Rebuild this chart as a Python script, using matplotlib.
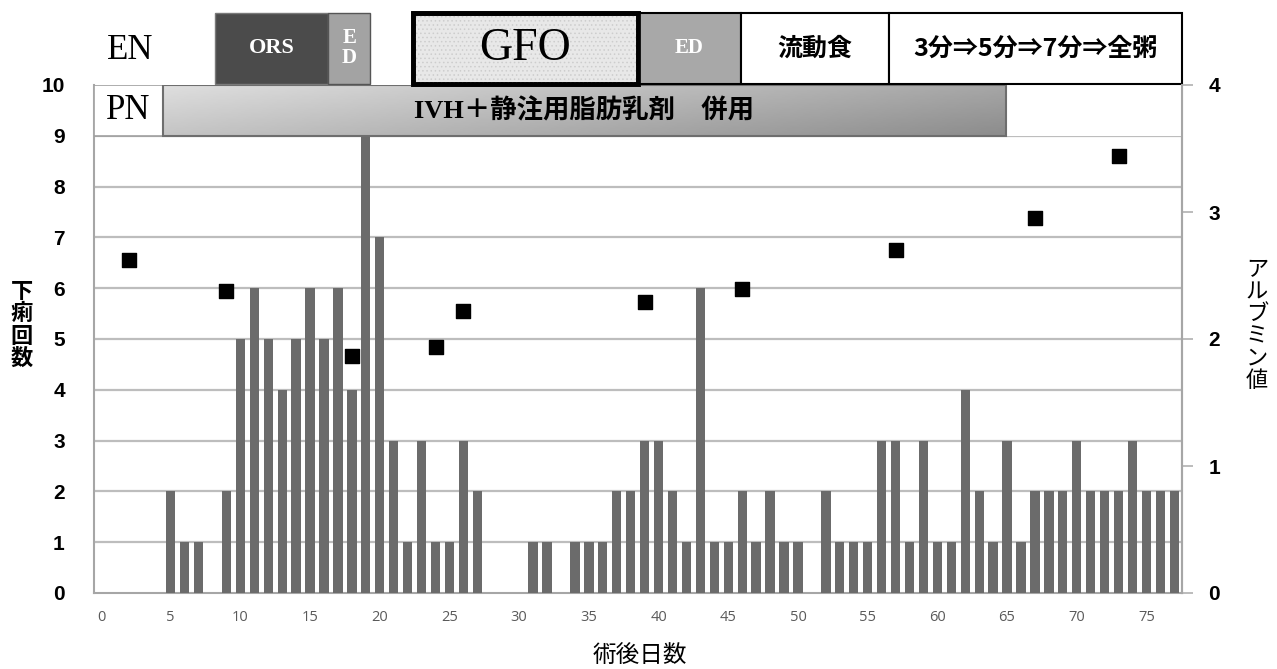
import numpy as np
import matplotlib
matplotlib.use("Agg")
import matplotlib.pyplot as plt
from matplotlib.patches import Rectangle

plt.rcParams['font.family'] = ['Noto Sans CJK JP', 'DejaVu Sans']
plt.rcParams['hatch.linewidth'] = 0.6

# ---- data ----
days = [5, 6, 7, 9, 10, 11, 12, 13, 14, 15, 16, 17, 18, 19, 20, 21, 22, 23, 24, 25, 26, 27,
        31, 32, 34, 35, 36, 37, 38, 39, 40, 41, 42, 43, 44, 45, 46, 47, 48, 49, 50,
        52, 53, 54, 55, 56, 57, 58, 59, 60, 61, 62, 63, 64, 65, 66, 67, 68, 69, 70,
        71, 72, 73, 74, 75, 76, 77]
diarrhea = [2, 1, 1, 2, 5, 6, 5, 4, 5, 6, 5, 6, 4, 9, 7, 3, 1, 3, 1, 1, 3, 2,
            1, 1, 1, 1, 1, 2, 2, 3, 3, 2, 1, 6, 1, 1, 2, 1, 2, 1, 1,
            2, 1, 1, 1, 3, 3, 1, 3, 1, 1, 4, 2, 1, 3, 1, 2, 2, 2, 3,
            2, 2, 2, 3, 2, 2, 2]

alb_days = [2, 9, 18, 24, 26, 39, 46, 57, 67, 73]
albumin = [2.62, 2.38, 1.87, 1.94, 2.22, 2.29, 2.39, 2.70, 2.95, 3.44]

# enteral nutrition periods (start day, end day, label)
en_labels = ["ORS", "E\nD", "GFO", "ED", "流動食", "3分⇒5分⇒7分⇒全粥"]
en_starts = [8.2, 16.3, 22.4, 38.5, 45.9, 56.5]
en_ends = [16.3, 19.3, 38.5, 45.9, 56.5, 77.55]

# parenteral nutrition period
pn_label = "IVH＋静注用脂肪乳剤　併用"
pn_start, pn_end = 4.45, 64.9

x_ticks = list(range(0, 76, 5))
left_ticks = list(range(0, 11))
right_ticks = [0, 1, 2, 3, 4]

# ---- figure ----
fig = plt.figure(figsize=(12.77, 6.69), dpi=100)
ax = fig.add_axes([94/1277, 1-593/669, (1182-94)/1277, (593-85)/669])
ax2 = ax.twinx()

XMIN, XMAX = -0.5, 77.55

ax.bar(days, diarrhea, width=0.67, color='#6b6b6b', zorder=3)
for y in range(1, 10):
    ax.axhline(y, color='#bdbdbd', lw=1.6, zorder=1)

ax.set_xlim(XMIN, XMAX)
ax.set_ylim(0, 10)
ax.set_xticks(x_ticks)
ax.set_xticklabels([str(t) for t in x_ticks], color='#5a5a5a', fontsize=10.5,
                   family=['Open Sans', 'DejaVu Sans'])
ax.tick_params(axis='x', length=0, pad=12)
ax.set_yticks(left_ticks)
ax.set_yticklabels([str(t) for t in left_ticks], fontsize=15, fontweight='bold',
                   family=['Liberation Sans', 'DejaVu Sans'])
ax.tick_params(axis='y', length=0, pad=21)
for s in ['left', 'bottom', 'right']:
    ax.spines[s].set_color('#a6a6a6')
    ax.spines[s].set_linewidth(1.5)
ax.spines['top'].set_visible(False)

ax2.scatter(alb_days, albumin, marker='s', s=100, color='black', zorder=5)
ax2.set_ylim(0, 4)
ax2.set_yticks(right_ticks)
ax2.set_yticklabels([str(t) for t in right_ticks], fontsize=15, fontweight='bold',
                    family=['Liberation Sans', 'DejaVu Sans'])
ax2.tick_params(axis='y', length=8, color='#b0b0b0', width=1.2, pad=11)
for s in ['left', 'bottom', 'top']:
    ax2.spines[s].set_visible(False)
ax2.spines['right'].set_color('#a6a6a6')
ax2.spines['right'].set_linewidth(1.5)
ax2.set_xlim(XMIN, XMAX)

ax2.set_zorder(ax.get_zorder() + 1)
ax2.patch.set_visible(False)

# ---- PN band (y 9..10 in left-axis units) ----
ax.add_patch(Rectangle((XMIN, 9), pn_start - XMIN, 1, facecolor='white',
                       edgecolor='#a0a0a0', lw=1.2, zorder=6))
ax.add_patch(Rectangle((pn_start, 9), XMAX - pn_start, 1, facecolor='white',
                       edgecolor='none', zorder=5))
gx = np.linspace(0.82, 0.60, 200)
gy = np.linspace(0.05, -0.05, 20)
grad = np.clip(gx[None, :] + gy[:, None], 0, 1)
ax.imshow(grad, cmap='gray', vmin=0, vmax=1, extent=(pn_start, pn_end, 9, 10),
          aspect='auto', origin='upper', zorder=6)
ax.add_patch(Rectangle((pn_start, 9), pn_end - pn_start, 1, facecolor='none',
                       edgecolor='#6e6e6e', lw=1.5, zorder=7))
ax.set_xlim(XMIN, XMAX)
ax.set_ylim(0, 10)
ax.text((XMIN + pn_start) / 2, 9.5, "PN", ha='center', va='center', fontsize=25,
        family=['Liberation Serif'], zorder=8)
ax.text((pn_start + pn_end) / 2, 9.5, pn_label, ha='center', va='center', fontsize=19,
        fontweight='bold', family=['Liberation Serif', 'Noto Sans CJK JP'], zorder=8)

# ---- EN row (above axes, y 10..11.42) ----
y0, y1 = 10.02, 11.42
ym = (y0 + y1) / 2
ax.text(2.1, ym - 0.04, "EN", ha='center', va='center', fontsize=25,
        family=['Liberation Serif'], clip_on=False)
styles = [
    dict(fc='#4b4b4b', ec='#7a7a7a', lw=1.0, tc='white', fs=16, fam=['Liberation Serif'], fw='bold'),
    dict(fc='#a3a3a3', ec='#555555', lw=1.0, tc='white', fs=15, fam=['Liberation Serif'], fw='bold'),
    dict(fc='#e8e8e8', ec='black', lw=3.4, tc='black', fs=33, fam=['Liberation Serif'], fw='normal'),
    dict(fc='#a8a8a8', ec='black', lw=1.5, tc='white', fs=15, fam=['Liberation Serif'], fw='bold'),
    dict(fc='white', ec='black', lw=1.5, tc='black', fs=18, fam=['Noto Sans CJK JP'], fw='bold'),
    dict(fc='white', ec='black', lw=1.5, tc='black', fs=18, fam=['Noto Sans CJK JP', 'DejaVu Sans'], fw='bold'),
]
for lab, s0, s1, st in zip(en_labels, en_starts, en_ends, styles):
    ax.add_patch(Rectangle((s0, y0), s1 - s0, y1 - y0, facecolor=st['fc'],
                           edgecolor=st['ec'], lw=st['lw'], clip_on=False, zorder=6))
    if lab == "GFO":
        ax.add_patch(Rectangle((s0, y0), s1 - s0, y1 - y0, facecolor='none',
                               edgecolor='#cdcdcd', lw=0, hatch='....',
                               clip_on=False, zorder=6.5))
        ax.add_patch(Rectangle((s0, y0), s1 - s0, y1 - y0, facecolor='none',
                               edgecolor='black', lw=st['lw'], clip_on=False, zorder=7))
    ax.text((s0 + s1) / 2, ym, lab, ha='center', va='center', color=st['tc'],
            fontsize=st['fs'], fontweight=st['fw'], family=st['fam'],
            linespacing=1.0, clip_on=False, zorder=8)

# ---- axis labels ----
fig.text(640/1277, 1-655/669, "術後日数", ha='center', va='center', fontsize=17)
fig.text(22/1277, 1-325/669, "\n".join("下痢回数"), ha='center', va='center',
         fontsize=16, fontweight='bold', linespacing=0.95)
fig.text(1257/1277, 1-325/669, "\n".join("アルブミン値"), ha='center', va='center',
         fontsize=16, linespacing=0.95)

fig.savefig("out.png", dpi=100, facecolor='white')
